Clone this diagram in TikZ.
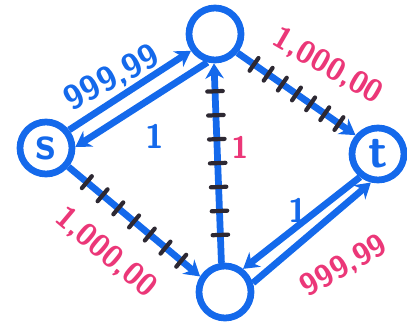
\documentclass[tikz,border=0pt]{standalone}
\usetikzlibrary{arrows.meta, decorations.markings}
\definecolor{penblue}{RGB}{20,105,235}
\definecolor{penpink}{RGB}{235,55,120}
\definecolor{penblack}{RGB}{45,40,50}

\begin{document}
\begin{tikzpicture}[x=0.025cm, y=-0.025cm,
  vert/.style={circle, draw=penblue, line width=4.8pt, minimum size=13mm,
               inner sep=0pt, text=penblue, font=\sffamily\bfseries\fontsize{34}{34}\selectfont},
  arr/.style={draw=penblue, line width=4.8pt, -{Stealth[length=3.8mm, width=4.6mm]}},
  ticked/.style={arr, postaction={decorate},
                 decoration={markings, mark=between positions 0.14 and 0.86 step 0.12 with
                   {\draw[-, penblack, line width=3pt, line cap=round] (0,-5.5pt) -- (0,5.5pt);}}},
  blab/.style={text=penblue, font=\sffamily\bfseries\fontsize{24}{24}\selectfont},
  plab/.style={text=penpink, font=\sffamily\bfseries\fontsize{22}{22}\selectfont}
]
  \useasboundingbox (0,0) rectangle (407,328);

  % vertices
  \node[vert] (s)   at (46,148)  {s};
  \node[vert] (top) at (215,34)  {};
  \node[vert] (t)   at (378,154) {t};
  \node[vert] (bot) at (225,292) {};

  % edges
  \draw[arr]    (s.38)   -- (top.215);
  \draw[arr]    (top.255) -- (s.2);
  \draw[ticked] (bot.97)  -- (top.268);
  \draw[ticked] (top.-40) -- (t.140);
  \draw[ticked] (s.-40)   -- (bot.148);
  \draw[arr]    (t.232)   -- (bot.52);
  \draw[arr]    (bot.18)  -- (t.256);

  % capacities and flows
  \node[blab, rotate=28]  (cap-s-top) at (112,78)  {999,99};
  \node[blab]             (flo-s-top) at (155,136) {1};
  \node[plab, rotate=-30] (cap-top-t) at (328,66)  {1,000,00};
  \node[plab]             (flo-vert)  at (240,147) {1};
  \node[plab, rotate=-40] (cap-s-bot) at (106,252) {1,000,00};
  \node[blab]             (flo-t-bot) at (298,210) {1};
  \node[plab, rotate=30]  (cap-t-bot) at (344,266) {999,99};
\end{tikzpicture}
\end{document}
